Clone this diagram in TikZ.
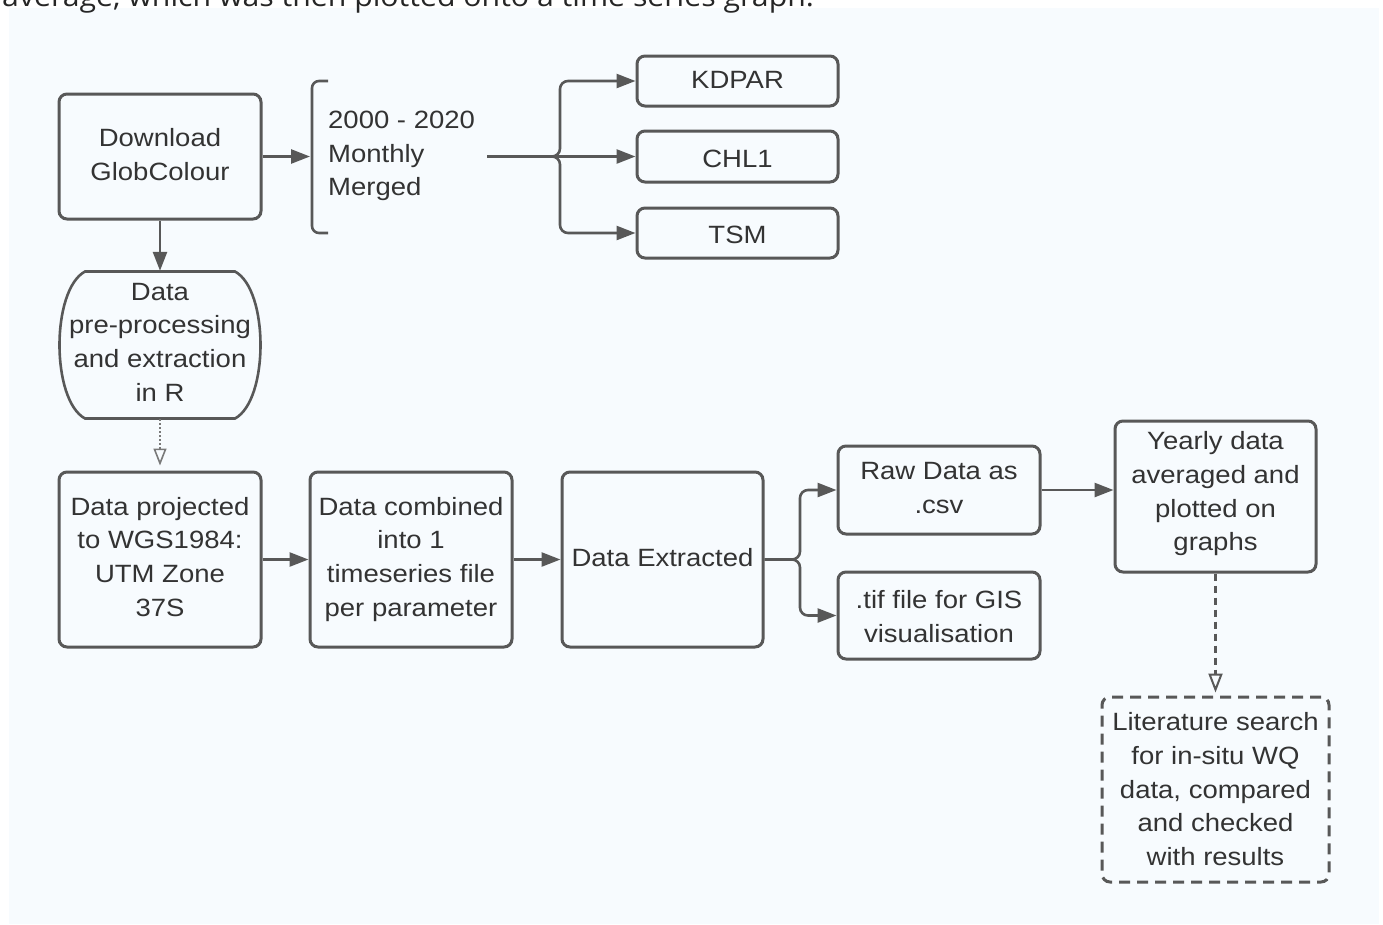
\documentclass[tikz,border=0pt]{standalone}
\usepackage{fontspec}
\setmainfont{Liberation Sans}[FakeStretch=1.1]
\newfontfamily\topfont{Open Sans}[FakeStretch=1.08]
\usetikzlibrary{arrows.meta}
\definecolor{strk}{HTML}{585858}
\definecolor{txt}{HTML}{333333}
\definecolor{panel}{HTML}{F7FBFE}
% centred block of lines, optionally moved down by #1 without changing its box
\newcommand{\tx}[2][0pt]{\raisebox{-#1}[\height][\depth]{\begin{tabular}{@{}c@{}}#2\end{tabular}}}
\begin{document}
\begin{tikzpicture}[x=1pt,y=-1pt,
  every node/.style={text=txt, font=\fontsize{25}{33.7}\selectfont},
  box/.style={draw=strk, line width=3pt, rounded corners=8pt, inner sep=0pt},
  dbox/.style={box, dash pattern=on 11pt off 7pt},
  line/.style={draw=strk, line width=2.6pt},
  arr/.style={line, -{Triangle[length=19pt,width=14pt]}},
  dotarr/.style={draw=strk!80, line width=1.6pt, dash pattern=on 2pt off 2pt, -{Triangle[open,length=17pt,width=13pt,line width=1.6pt,fill=panel]}, shorten >=5pt},
  dasharr/.style={draw=strk, line width=2.4pt, dash pattern=on 7pt off 5pt, -{Triangle[open,length=19pt,width=14pt,line width=2pt,fill=panel]}, shorten >=3pt}
]
\useasboundingbox (0,0) rectangle (1383,924);
\fill[white] (0,0) rectangle (1383,924);
\fill[panel] (9,8) rectangle (1379,924);
\begin{scope}
\clip (0,0) rectangle (1383,924);
\node[anchor=base west, inner sep=0, align=left, text=black!85, font=\topfont\fontsize{28}{32}\selectfont] (cap) at (2,6) {average, which was then plotted onto a time series graph.};
\end{scope}

% top row
\node[box, minimum width=202pt, minimum height=125pt] (dl) at (160,156.5) {\tx{Download\\GlobColour}};
\node[anchor=west, inner sep=0, align=left] (mm) at (328,156) {2000 - 2020\\Monthly\\Merged};
\draw[line, rounded corners=7pt] (328,81) -- (312,81) -- (312,233) -- (328,233);
\coordinate (br) at (310,156.5);
\draw[arr] (dl.east) -- (br);

\node[box, minimum width=201pt, minimum height=50pt] (kd) at (737.5,81) {\tx[1pt]{KDPAR}};
\node[box, minimum width=201pt, minimum height=51pt] (chl) at (737.5,156.5) {\tx[4pt]{CHL1}};
\node[box, minimum width=201pt, minimum height=50pt] (tsm) at (737.5,233) {\tx[3.5pt]{TSM}};
\coordinate (j0) at (487,156.5);
\coordinate (bx) at (560,0);
\draw[arr] (j0) -- (chl.west);
\draw[arr, rounded corners=8pt] (j0) -| (bx |- kd.west) -- (kd.west);
\draw[arr, rounded corners=8pt] (j0) -| (bx |- tsm.west) -- (tsm.west);

% pre-processing
\node[minimum width=202pt, minimum height=148pt, inner sep=0] (pre) at (160,345) {\tx[-1pt]{Data\\pre-processing\\and extraction\\in R}};
\draw[line] (85,271.5) -- (235,271.5) .. controls (269,290) and (269,400) .. (235,418.5) -- (85,418.5) .. controls (51,400) and (51,290) .. (85,271.5) -- cycle;
\draw[arr] (dl.south) -- (pre.north);

% second row
\node[box, minimum width=202pt, minimum height=175pt] (proj) at (160,559.5) {\tx[-0.5pt]{Data projected\\to WGS1984:\\UTM Zone\\37S}};
\node[box, minimum width=202pt, minimum height=175pt] (comb) at (411,559.5) {\tx[-0.5pt]{Data combined\\into 1\\timeseries file\\per parameter}};
\node[box, minimum width=201pt, minimum height=175pt] (ext) at (662.5,559.5) {\tx{Data Extracted}};
\node[box, minimum width=202pt, minimum height=88pt] (raw) at (939,490) {\tx{Raw Data as\\.csv}};
\node[box, minimum width=202pt, minimum height=87pt] (tif) at (939,615.5) {\tx[3pt]{.tif file for GIS\\visualisation}};
\node[box, minimum width=201pt, minimum height=151pt] (yr) at (1215.5,496.5) {\tx[-3pt]{Yearly data\\averaged and\\plotted on\\graphs}};
\node[dbox, minimum width=227pt, minimum height=185pt] (lit) at (1215.5,789.5) {\tx[2pt]{Literature search\\for in-situ WQ\\data, compared\\and checked\\with results}};

\draw[dotarr] (pre.south) -- (proj.north);
\draw[arr] (proj.east) -- (comb.west);
\draw[arr] (comb.east) -- (ext.west);
\coordinate (bx2) at (800,0);
\draw[arr, rounded corners=8pt] (ext.east) -| (bx2 |- raw.west) -- (raw.west);
\draw[arr, rounded corners=8pt] (ext.east) -| (bx2 |- tif.west) -- (tif.west);
\draw[arr] (raw.east) -- (raw.east -| yr.west);
\draw[dasharr] (yr.south) -- (lit.north);
\end{tikzpicture}
\end{document}
